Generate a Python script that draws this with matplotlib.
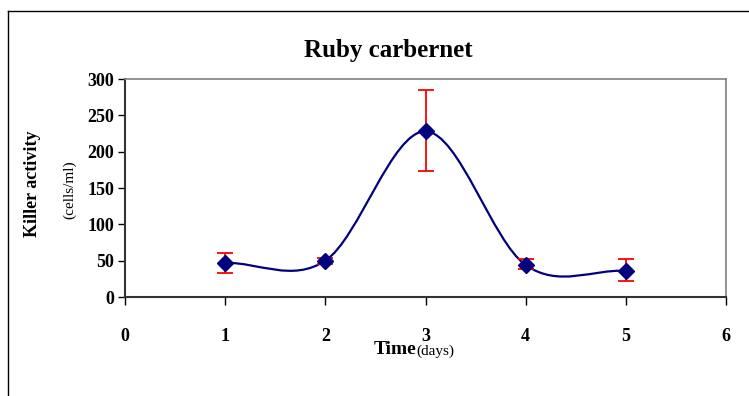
import matplotlib.pyplot as plt
from matplotlib.path import Path
from matplotlib.patches import PathPatch
from matplotlib.lines import Line2D

# Killer activity measured each day
days = [1, 2, 3, 4, 5]
activity = [47, 50, 228, 44, 36]
err_low = [14, 4, 55, 6, 14]
err_high = [14, 4, 57, 8, 16]

x_ticks = [0, 1, 2, 3, 4, 5, 6]
y_ticks = [0, 50, 100, 150, 200, 250, 300]

NAVY = '#000080'
FONT = 'Liberation Serif'


# Excel-style smoothed line: cubic Bezier segments with Catmull-Rom tangents
def smooth_path(xs, ys):
    n = len(xs)
    pts = list(zip(xs, ys))
    tangents = []
    for i in range(n):
        a = pts[max(i - 1, 0)]
        b = pts[min(i + 1, n - 1)]
        span = (min(i + 1, n - 1) - max(i - 1, 0))
        tangents.append(((b[0] - a[0]) / span, (b[1] - a[1]) / span))
    verts = [pts[0]]
    codes = [Path.MOVETO]
    for i in range(n - 1):
        p0, p1 = pts[i], pts[i + 1]
        t0, t1 = tangents[i], tangents[i + 1]
        verts += [(p0[0] + t0[0] / 3, p0[1] + t0[1] / 3),
                  (p1[0] - t1[0] / 3, p1[1] - t1[1] / 3),
                  p1]
        codes += [Path.CURVE4] * 3
    return Path(verts, codes)


def main():
    fig = plt.figure(figsize=(7.49, 3.96), dpi=100)
    ax = fig.add_axes([0.1669, 0.25, 0.8024, 0.5505])

    ax.add_patch(PathPatch(smooth_path(days, activity), fill=False,
                           edgecolor=NAVY, lw=1.6, zorder=2))
    ax.errorbar(days, activity, yerr=[err_low, err_high], fmt='none',
                ecolor='red', elinewidth=1.3, capsize=5.5, capthick=1.3, zorder=3)
    ax.plot(days, activity, linestyle='none', marker='D', markersize=8,
            color=NAVY, zorder=4)

    ax.set_xlim(0, 6)
    ax.set_ylim(0, 300)
    ax.set_xticks(x_ticks)
    ax.set_yticks(y_ticks)
    ax.tick_params(axis='x', direction='out', length=6, pad=16, width=1)
    ax.tick_params(axis='y', direction='out', length=5, pad=3, width=1)
    for lab in ax.get_xticklabels() + ax.get_yticklabels():
        lab.set_fontfamily(FONT)
        lab.set_fontweight('bold')
        lab.set_fontsize(13)

    for side in ['top', 'right']:
        ax.spines[side].set_color('#808080')
        ax.spines[side].set_linewidth(1.2)
    for side in ['left', 'bottom']:
        ax.spines[side].set_color('#333333')
        ax.spines[side].set_linewidth(1.5)

    fig.text(0.518, 0.872, 'Ruby carbernet', ha='center', va='center',
             fontfamily=FONT, fontweight='bold', fontsize=18)

    # y axis title in two parts
    fig.text(0.043, 0.535, 'Killer activity', rotation=90, ha='center',
             va='center', fontfamily=FONT, fontweight='bold', fontsize=13)
    fig.text(0.093, 0.52, '(cells/ml)', rotation=90, ha='center',
             va='center', fontfamily=FONT, fontsize=11)

    # x axis title: bold word followed by smaller unit
    fig.text(0.556, 0.118, 'Time', ha='right', va='center',
             fontfamily=FONT, fontweight='bold', fontsize=14)
    fig.text(0.556, 0.112, '(days)', ha='left', va='center',
             fontfamily=FONT, fontsize=11)

    # outer chart-area frame
    fig.add_artist(Line2D([8 / 749, 1.0], [1 - 11 / 396, 1 - 11 / 396],
                          transform=fig.transFigure, color='black', lw=1))
    fig.add_artist(Line2D([8 / 749, 8 / 749], [0.0, 1 - 11 / 396],
                          transform=fig.transFigure, color='black', lw=1))

    fig.savefig('out.png', dpi=100)


if __name__ == "__main__":
    main()
